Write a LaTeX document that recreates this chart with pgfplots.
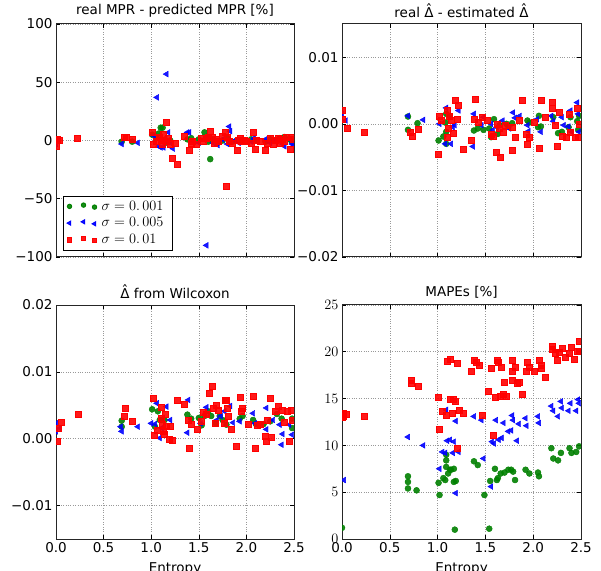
\documentclass[border=0pt]{standalone}
\usepackage{fontspec}
\setmainfont{DejaVu Sans}
\usepackage{pgfplots}
\pgfplotsset{compat=1.18}
\definecolor{mgreen}{rgb}{0,0.5,0}
\definecolor{mblue}{rgb}{0,0,1}
\definecolor{mred}{rgb}{1,0,0}
\newcommand{\dhat}{\accent"02C6 Δ}
\newcommand{\lgf}{\fontsize{14.5bp}{17bp}\selectfont}
\pgfplotsset{
  panel/.style={
    scale only axis, width=238bp, height=233bp, anchor=south west,
    xmin=0, xmax=2.5, xtick={0,0.5,1,1.5,2,2.5},
    scaled ticks=false,
    grid=major,
    major grid style={gray!80, dotted, line width=0.6bp},
    axis line style={line width=1bp, black!85},
    tick style={black, line width=0.6bp},
    major tick length=4bp,
    tick align=inside,
    ticklabel style={font=\fontsize{13.5bp}{16bp}\selectfont},
    title style={font=\fontsize{13.5bp}{16bp}\selectfont, yshift=-3bp},
    xlabel style={font=\fontsize{13.5bp}{16bp}\selectfont},
    clip marker paths=true,
  },
  gser/.style={only marks, mark=*, mark size=3bp, color=mgreen, mark options={draw=none, fill=mgreen, fill opacity=0.9}},
  bser/.style={only marks, mark=triangle*, mark size=3.3bp, color=mblue, mark options={draw=none, fill=mblue, rotate=90, fill opacity=0.9}},
  rser/.style={only marks, mark=square*, mark size=3bp, color=mred, mark options={draw=none, fill=mred, fill opacity=0.9}},
}
\begin{document}
\begin{tikzpicture}
\path[use as bounding box] (0,0) rectangle (601bp,571bp);
% ---------------- top-left
\begin{axis}[panel, at={(56bp,314bp)},
  ymin=-100, ymax=100, ytick={-100,-50,0,50,100}, yticklabels={−100,−50,0,50,100},
  xticklabels={},
  title={real MPR - predicted MPR [\%]},
  legend style={at={(0.028,0.027)}, anchor=south west, draw=black, line width=1bp, fill=white,
    font=\lgf, row sep=2bp, inner xsep=4bp, inner ysep=3bp,
    nodes={inner xsep=5bp}},
  legend cell align=left,
  legend image code/.code={\draw[#1, only marks, every mark/.append style={scale=0.72}] plot coordinates {(0bp,0bp) (14bp,1.3bp) (25bp,-0.7bp)};},
]
\addplot[gser] coordinates {(0.69,-1) (0.8,-1) (1.01,5) (1.05,2) (1.08,6) (1.1,11) (1.12,11) (1.15,-2) (1.2,0) (1.38,1) (1.42,2) (1.5,1) (1.56,7) (1.6,-1) (1.62,-16) (1.65,1) (1.7,-2) (1.75,0) (1.8,2) (1.85,-1) (1.9,0) (1.95,-1) (2.05,1) (2.1,0) (2.2,-1) (2.25,1) (2.3,0) (2.35,2) (2.4,3) (2.45,1) (2.48,-1)};
\addlegendentry{\lgf$\sigma=0.\,001$}
\addplot[bser] coordinates {(0.0,-3) (0.02,0) (0.69,-3) (0.86,-2) (1.03,4) (1.06,37) (1.08,-5) (1.1,-6) (1.13,-6) (1.15,2) (1.16,57) (1.18,7) (1.2,-2) (1.23,-7) (1.38,7) (1.4,7) (1.45,-1) (1.5,-2) (1.55,1) (1.58,-90) (1.6,3) (1.65,-2) (1.7,-4) (1.75,1) (1.8,-3) (1.82,12) (1.83,8) (1.88,0) (1.92,-2) (1.95,1) (2.05,-1) (2.08,2) (2.2,1) (2.25,-2) (2.3,0) (2.35,2) (2.38,-3) (2.4,-5) (2.45,1) (2.48,-3) (2.5,-4)};
\addlegendentry{\lgf$\sigma=0.\,005$}
\addplot[rser] coordinates {(0.0,-5) (0.01,1) (0.03,0) (0.22,2) (0.72,3) (0.74,3) (0.8,1) (1.01,7) (1.02,-3) (1.05,-1) (1.08,3) (1.1,0) (1.12,-3) (1.13,5) (1.155,15.5) (1.16,-1) (1.18,2) (1.2,-3) (1.225,-15.5) (1.27,-20) (1.25,-2) (1.35,4) (1.4,-8.5) (1.42,-2) (1.43,-1) (1.47,-3) (1.52,2) (1.55,-1) (1.58,2) (1.6,3) (1.62,8) (1.64,3) (1.66,-2) (1.68,1) (1.7,-1) (1.75,4) (1.78,7.4) (1.79,-39) (1.8,3) (1.82,-1) (1.85,-2) (1.9,-8) (1.91,0) (1.93,2) (1.95,-1) (1.98,0) (2.0,-1) (2.05,-2) (2.07,7) (2.09,-7.7) (2.1,0) (2.15,-1) (2.2,-8) (2.22,-2) (2.25,2) (2.28,-3) (2.3,0) (2.33,2) (2.35,-2) (2.38,1) (2.4,-1) (2.42,3) (2.46,-7.7) (2.47,3) (2.49,1)};
\addlegendentry{\lgf$\sigma=0.\,01$}
\end{axis}
% ---------------- top-right
\begin{axis}[panel, at={(342bp,314bp)}, width=239bp,
  ymin=-0.02, ymax=0.015, ytick={-0.02,-0.01,0,0.01}, yticklabels={−0.02,−0.01,0.00,0.01},
  xticklabels={},
  title={real \dhat{} - estimated \dhat},
]
\addplot[gser] coordinates {(0.69,0.0011) (0.69,-0.0009) (0.79,0.0001) (1.01,-0.0025) (1.06,-0.0019) (1.09,0.0015) (1.09,-0.0012) (1.09,-0.003) (1.12,0.0012) (1.08,0.0002) (1.38,-0.001) (1.42,-0.0007) (1.48,-0.0009) (1.54,-0.0007) (1.56,-0.002) (1.59,0.0007) (1.63,-0.0015) (1.65,-0.0002) (1.72,0) (1.74,-0.0004) (1.78,0.0001) (1.94,0.0005) (1.96,0.0002) (2.05,-0.0005) (2.06,0.0012) (2.08,-0.0004) (2.21,0.001) (2.26,-0.0014) (2.3,-0.0012) (2.37,-0.0005) (2.39,0.001) (2.46,0.0004) (2.48,0.0012) (2.47,-0.0009)};
\addplot[bser] coordinates {(0,0.0015) (0.04,0.0005) (0.69,0.0012) (0.85,0.0006) (1.02,0) (1.09,0.0024) (1.08,-0.003) (1.14,-0.003) (1.16,-0.0005) (1.22,0.002) (1.18,-0.0002) (1.37,-0.0034) (1.38,0.0015) (1.46,-0.0002) (1.48,0.001) (1.56,0) (1.58,-0.0009) (1.62,-0.0005) (1.68,0.0005) (1.75,-0.0007) (1.79,0.0017) (1.81,0.0009) (1.86,0.0012) (1.94,-0.0002) (1.95,-0.0011) (2.04,0.0007) (2.08,-0.0012) (2.19,0.0012) (2.21,0.0004) (2.3,0.001) (2.32,-0.0002) (2.37,-0.0004) (2.39,0.002) (2.46,0.0032) (2.47,0.0015) (2.48,-0.0012) (2.4,-0.0012)};
\addplot[rser] coordinates {(0,0.0021) (0,0.0007) (0.05,-0.0007) (0.23,-0.0012) (0.71,-0.0012) (0.73,-0.0019) (0.8,-0.0008) (1.01,-0.0045) (1.02,0.0012) (1.04,0.0006) (1.1,0.002) (1.12,0.0012) (1.14,0.0005) (1.11,-0.0006) (1.1,-0.002) (1.16,-0.0014) (1.18,0.0035) (1.22,0.0028) (1.2,0.0007) (1.27,-0.0038) (1.35,-0.0025) (1.38,0.0007) (1.39,0.0037) (1.42,0.0002) (1.47,0.001) (1.52,0.0005) (1.56,-0.0015) (1.58,-0.0019) (1.61,-0.0043) (1.65,-0.005) (1.62,0) (1.64,-0.0007) (1.69,-0.0012) (1.71,-0.0002) (1.78,-0.0005) (1.78,-0.0039) (1.81,-0.002) (1.85,0.0005) (1.88,0.0035) (1.93,-0.0015) (1.94,-0.0031) (1.96,-0.002) (2.01,0.0002) (2.06,-0.0036) (2.08,0.0036) (2.13,0.001) (2.2,0.0032) (2.2,0.0024) (2.23,-0.0002) (2.25,-0.0033) (2.27,0.0017) (2.3,-0.0019) (2.34,-0.002) (2.38,0.0015) (2.39,-0.0012) (2.44,-0.002) (2.46,0.0024) (2.47,-0.002) (2.48,0)};
\end{axis}
% ---------------- bottom-left
\begin{axis}[panel, at={(56bp,32bp)}, height=234bp,
  ymin=-0.015, ymax=0.02, ytick={-0.01,0,0.01,0.02}, yticklabels={−0.01,0.00,0.01,0.02},
  xticklabels={0.0,0.5,1.0,1.5,2.0,2.5},
  title={\dhat{} from Wilcoxon},
  xlabel={Entropy}, xlabel style={yshift=-3bp},
]
\addplot[gser] coordinates {(0.69,0.0027) (0.69,0.0018) (1.01,0.0044) (1.04,0.0018) (1.07,0.0041) (1.09,0.0028) (1.11,0.0028) (1.14,0.0028) (1.38,0.0036) (1.42,0.003) (1.5,0.0031) (1.53,0.002) (1.56,0.0034) (1.6,0.0041) (1.63,0.0034) (1.68,0.0023) (1.72,0.0034) (1.75,0.0028) (1.79,0.0021) (1.93,0.003) (1.96,0.0034) (2.07,0.0028) (2.1,0.0022) (2.18,0.0022) (2.25,0.0026) (2.32,0.0037) (2.37,0.003) (2.48,0.003) (2.48,0.0016)};
\addplot[bser] coordinates {(0,0.0023) (0,0.0011) (0.04,0.0016) (0.68,0.0018) (0.69,0.0011) (0.86,0.0018) (1.0,0.0023) (1.04,0.0022) (1.06,0.0053) (1.09,0.0001) (1.11,0.0016) (1.16,0.0048) (1.2,0.0028) (1.39,0.0058) (1.38,0.0009) (1.52,0.0023) (1.58,0.0047) (1.69,0.0028) (1.73,0.0034) (1.77,0.0041) (1.83,0.0049) (1.86,0.0024) (1.93,0.0026) (2.07,0.0038) (2.09,0.0023) (2.21,0.0046) (2.21,0.0014) (2.28,0.0028) (2.35,0.0021) (2.38,0.0007) (2.37,-0.0009) (2.45,0.0021) (2.48,0.0006)};
\addplot[rser] coordinates {(0.01,-0.0004) (0.02,0.0016) (0.05,0.0024) (0.23,0.0037) (0.72,0.0033) (0.73,0.0046) (0.8,0.0026) (1.02,0.006) (1.03,0.0005) (1.06,0.0013) (1.1,0.0047) (1.11,0.0031) (1.12,0.0021) (1.13,0.0011) (1.14,0.0007) (1.15,0.0037) (1.16,0.0018) (1.19,0) (1.2,0.0018) (1.22,-0.0002) (1.27,0.0058) (1.35,0.0051) (1.39,0.0027) (1.4,-0.0014) (1.42,0.0022) (1.48,0.0014) (1.53,0.0026) (1.55,0.0039) (1.58,0.0037) (1.61,0.0068) (1.64,0.0078) (1.65,0.0046) (1.67,0.0023) (1.68,0.005) (1.7,0.0043) (1.77,0.0023) (1.79,0.0058) (1.78,0.0058) (1.8,0.0046) (1.81,0.0033) (1.84,0.0014) (1.89,-0.0011) (1.94,0.0062) (1.95,0.0041) (1.96,0.0046) (2.02,0.0022) (2.07,0.0064) (2.09,-0.0014) (2.11,0.002) (2.14,0.0022) (2.2,0.0004) (2.21,-0.0003) (2.25,0.0061) (2.26,0.0002) (2.22,0.0027) (2.3,0.0041) (2.33,0.0048) (2.38,0.0043) (2.4,0.0024) (2.43,0.0041) (2.45,-0.0004) (2.47,0.0042) (2.48,0.0028)};
\end{axis}
% ---------------- bottom-right
\begin{axis}[panel, at={(342bp,32bp)}, width=239bp, height=234bp,
  ymin=0, ymax=25, ytick={0,5,10,15,20,25},
  xticklabels={0.0,0.5,1.0,1.5,2.0,2.5},
  title={MAPEs [\%]},
  xlabel={Entropy}, xlabel style={yshift=-3bp},
]
\addplot[gser] coordinates {(0.0,1.2) (0.69,6.7) (0.69,6.1) (0.69,5.4) (0.78,5.2) (1.01,6.0) (1.02,4.7) (1.06,6.5) (1.09,9.0) (1.09,8.4) (1.09,7.7) (1.08,6.3) (1.11,7.0) (1.13,7.4) (1.14,7.4) (1.17,6.1) (1.17,7.5) (1.18,1.0) (1.19,6.2) (1.38,8.3) (1.42,7.9) (1.49,4.7) (1.54,1.1) (1.55,6.2) (1.6,7.5) (1.62,6.3) (1.63,6.5) (1.66,7.0) (1.7,7.1) (1.74,7.4) (1.77,7.4) (1.79,7.2) (1.81,6.3) (1.92,7.4) (1.96,7.0) (2.05,7.1) (2.06,6.7) (2.19,9.7) (2.21,8.6) (2.26,8.4) (2.29,9.2) (2.38,9.7) (2.4,9.2) (2.45,9.3) (2.48,9.9)};
\addplot[bser] coordinates {(0.02,6.3) (0.69,10.9) (0.85,10.0) (1.02,7.5) (1.05,9.3) (1.08,9.2) (1.09,13.8) (1.1,10.5) (1.13,10.6) (1.16,9.2) (1.17,10.4) (1.19,4.9) (1.19,12.6) (1.22,9.3) (1.38,13.1) (1.46,12.7) (1.48,8.6) (1.56,5.6) (1.57,10.4) (1.59,10.2) (1.61,12.7) (1.64,10.6) (1.67,10.8) (1.69,12.4) (1.74,11.5) (1.77,11.6) (1.78,13.2) (1.79,12.7) (1.83,10.5) (1.85,12.3) (1.92,12.9) (1.93,12.1) (2.05,13.1) (2.06,12.4) (2.19,14.2) (2.21,13.7) (2.26,13.1) (2.29,14.7) (2.3,14.0) (2.37,13.7) (2.39,14.5) (2.45,13.7) (2.47,14.9) (2.48,14.5)};
\addplot[rser] coordinates {(0.0,13.0) (0.01,13.4) (0.01,13.1) (0.045,13.3) (0.23,13.1) (0.72,17.0) (0.72,16.6) (0.80,16.3) (1.01,15.2) (1.02,11.7) (1.05,13.7) (1.09,13.2) (1.10,19.0) (1.13,19.2) (1.13,14.9) (1.16,14.9) (1.15,13.4) (1.18,14.7) (1.20,18.8) (1.21,9.7) (1.23,13.8) (1.27,13.4) (1.35,17.9) (1.38,19.1) (1.40,18.9) (1.43,18.6) (1.47,13.2) (1.53,15.8) (1.56,18.2) (1.58,11.1) (1.60,15.2) (1.62,19.1) (1.63,18.9) (1.65,15.3) (1.67,18.4) (1.69,15.5) (1.70,16.7) (1.72,15.3) (1.78,19.1) (1.78,17.9) (1.78,17.0) (1.81,18.4) (1.83,16.6) (1.85,16.7) (1.88,15.5) (1.93,17.9) (1.94,18.9) (1.96,18.4) (2.01,17.9) (2.06,19.1) (2.08,18.6) (2.08,18.3) (2.13,17.3) (2.20,20.6) (2.20,20.3) (2.23,19.8) (2.25,19.1) (2.27,20.0) (2.30,20.4) (2.33,19.4) (2.38,19.8) (2.40,20.5) (2.43,19.2) (2.46,20.1) (2.48,21.1) (2.48,20.1)};
\end{axis}
\end{tikzpicture}
\end{document}
